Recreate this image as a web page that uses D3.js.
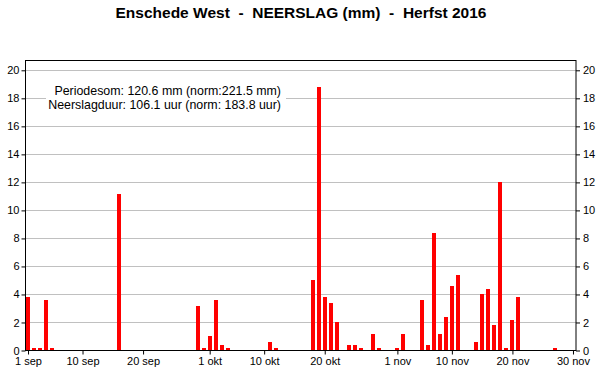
<!DOCTYPE html>
<html>
<head>
<meta charset="utf-8">
<script src="https://cdn.jsdelivr.net/npm/d3@7"></script>
<style>
  body { margin: 0; background: #fff; }
  svg { font-family: "Liberation Sans", Arial, sans-serif; }
  .axis text { font-size: 11px; fill: #000; }
  .axis line { stroke: #000; }
</style>
</head>
<body>
<div id="chart"></div>
<script>
// daily precipitation (mm), only the wet days
const rainDates = [
  "2016-09-01", "2016-09-02", "2016-09-03", "2016-09-04", "2016-09-05", "2016-09-16",
  "2016-09-29", "2016-09-30", "2016-10-01", "2016-10-02", "2016-10-03", "2016-10-04",
  "2016-10-11", "2016-10-12", "2016-10-18", "2016-10-19", "2016-10-20", "2016-10-21",
  "2016-10-22", "2016-10-24", "2016-10-25", "2016-10-26", "2016-10-28", "2016-10-29",
  "2016-11-01", "2016-11-02", "2016-11-05", "2016-11-06", "2016-11-07", "2016-11-08",
  "2016-11-09", "2016-11-10", "2016-11-11", "2016-11-14", "2016-11-15", "2016-11-16",
  "2016-11-17", "2016-11-18", "2016-11-19", "2016-11-20", "2016-11-21", "2016-11-27"
];
const rainMm = [
  3.8, 0.2, 0.2, 3.6, 0.2, 11.2,
  3.2, 0.2, 1.0, 3.6, 0.4, 0.2,
  0.6, 0.2, 5.0, 18.8, 3.8, 3.4,
  2.0, 0.4, 0.4, 0.2, 1.2, 0.2,
  0.2, 1.2, 3.6, 0.4, 8.4, 1.2,
  2.4, 4.6, 5.4, 0.6, 4.0, 4.4,
  1.8, 12.0, 0.2, 2.2, 3.8, 0.2
];

const tickDates = ["2016-09-01", "2016-09-10", "2016-09-20", "2016-10-01", "2016-10-10",
  "2016-10-20", "2016-11-01", "2016-11-10", "2016-11-20", "2016-11-30"];
const tickLabels = ["1 sep", "10 sep", "20 sep", "1 okt", "10 okt",
  "20 okt", "1 nov", "10 nov", "20 nov", "30 nov"];
const yTicks = [0, 2, 4, 6, 8, 10, 12, 14, 16, 18, 20];

const title = "Enschede West  -  NEERSLAG (mm)  -  Herfst 2016";
const infoLines = ["Periodesom: 120.6 mm (norm:221.5 mm)", "Neerslagduur: 106.1 uur (norm: 183.8 uur)"];

const width = 600, height = 390;
const plot = { left: 25, right: 576, top: 60.5, bottom: 350.5 };
const halfDay = 12 * 3600 * 1000;

const parse = d3.utcParse("%Y-%m-%d");
const data = rainDates.map(function(d, i) {
  return { date: parse(d), mm: rainMm[i] };
});

const x = d3.scaleUtc()
  .domain([new Date(+parse("2016-09-01") - halfDay), new Date(+parse("2016-11-30") + halfDay)])
  .range([plot.left, plot.right]);

const y = d3.scaleLinear()
  .domain([0, 20.7])
  .range([plot.bottom, plot.top]);

const svg = d3.select("#chart")
  .append("svg")
  .attr("width", width)
  .attr("height", height);

svg.append("text")
  .attr("x", 301)
  .attr("y", 18)
  .attr("text-anchor", "middle")
  .style("font-size", "15.5px")
  .style("font-weight", "bold")
  .style("white-space", "pre")
  .text(title);

// gridlines
svg.append("g")
  .selectAll("line")
  .data(yTicks.filter(function(d) { return d > 0; }))
  .enter().append("line")
  .attr("x1", plot.left)
  .attr("x2", plot.right)
  .attr("y1", function(d) { return Math.round(y(d)) + 0.5; })
  .attr("y2", function(d) { return Math.round(y(d)) + 0.5; })
  .attr("stroke", "#c0c0c0");

// white box behind the info text
svg.append("rect")
  .attr("x", 46)
  .attr("y", 81)
  .attr("width", 240)
  .attr("height", 31)
  .attr("fill", "#fff");

svg.append("g")
  .selectAll("text")
  .data(infoLines)
  .enter().append("text")
  .attr("x", 281)
  .attr("y", function(d, i) { return 94.5 + i * 14.3; })
  .attr("text-anchor", "end")
  .style("font-size", "12.4px")
  .text(function(d) { return d; });

svg.append("g")
  .selectAll("rect")
  .data(data)
  .enter().append("rect")
  .attr("x", function(d) { return x(d.date) - 2; })
  .attr("width", 4)
  .attr("y", function(d) { return y(d.mm); })
  .attr("height", function(d) { return plot.bottom - y(d.mm); })
  .attr("fill", "#ff0000")
  .attr("shape-rendering", "crispEdges");

// frame
svg.append("rect")
  .attr("x", plot.left + 0.5)
  .attr("y", plot.top)
  .attr("width", plot.right - plot.left - 0.5)
  .attr("height", plot.bottom - plot.top)
  .attr("fill", "none")
  .attr("stroke", "#000");

const xAxis = svg.append("g")
  .attr("class", "axis")
  .attr("transform", "translate(0," + plot.bottom + ")")
  .call(d3.axisBottom(x)
    .tickValues(tickDates.map(parse))
    .tickFormat(function(d, i) { return tickLabels[i]; })
    .tickSize(4)
    .tickPadding(3));
xAxis.select(".domain").remove();

const yLeft = svg.append("g")
  .attr("class", "axis")
  .attr("transform", "translate(" + (plot.left + 0.5) + ",0)")
  .call(d3.axisLeft(y).tickValues(yTicks).tickSize(4).tickPadding(2));
yLeft.select(".domain").remove();

const yRight = svg.append("g")
  .attr("class", "axis")
  .attr("transform", "translate(" + plot.right + ",0)")
  .call(d3.axisRight(y).tickValues(yTicks).tickSize(4).tickPadding(3));
yRight.select(".domain").remove();
</script>
</body>
</html>
